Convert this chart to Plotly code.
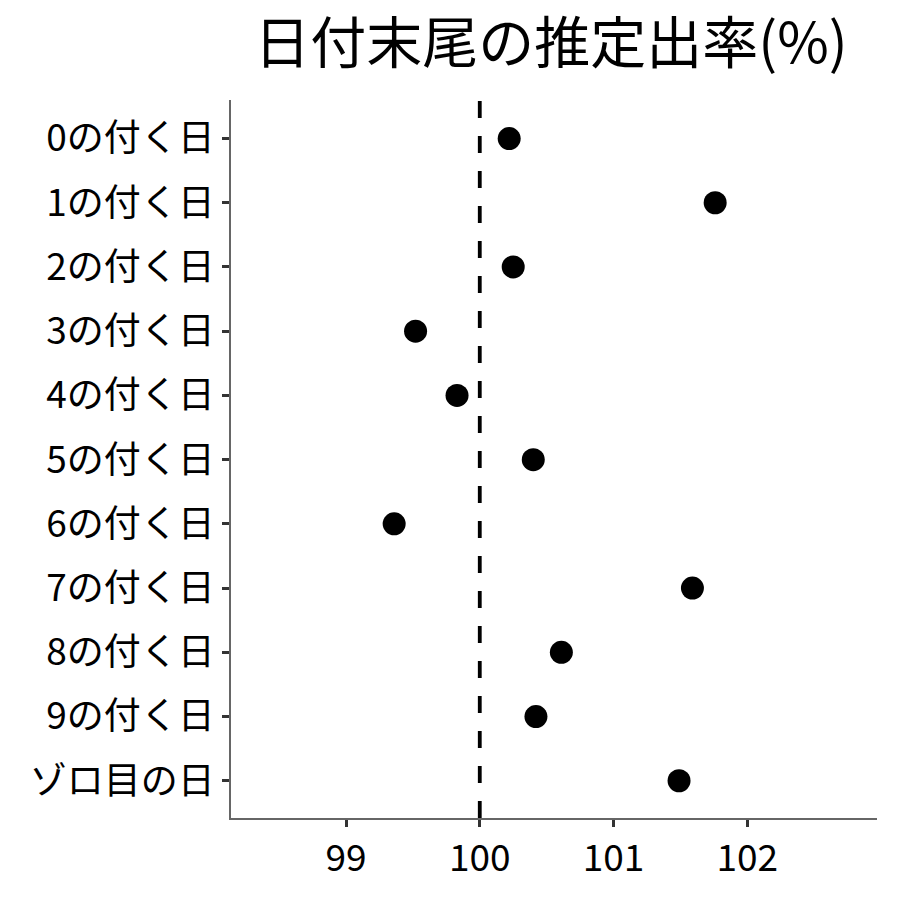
import plotly.graph_objects as go

categories = ["0の付く日", "1の付く日", "2の付く日", "3の付く日", "4の付く日", "5の付く日",
              "6の付く日", "7の付く日", "8の付く日", "9の付く日", "ゾロ目の日"]
rates = [100.22, 101.76, 100.25, 99.52, 99.83, 100.40, 99.36, 101.59, 100.61, 100.42, 101.49]
x_ticks = [99, 100, 101, 102]
reference_value = 100

font_family = "Noto Sans CJK JP"

fig = go.Figure()
fig.add_trace(go.Scatter(
    x=rates, y=categories, mode="markers",
    marker=dict(color="black", size=23),
    showlegend=False,
))
fig.add_vline(x=reference_value, line=dict(color="black", width=3.8, dash="17px,18px"))

L, T, PW, PH = 223, 92, 646, 718
fig.update_layout(
    width=900, height=900,
    paper_bgcolor="white", plot_bgcolor="white",
    margin=dict(l=L, r=900 - L - PW, t=T, b=900 - T - PH),
    title=dict(text="日付末尾の推定出率(%)", x=(L + PW / 2 - 3) / 900, xanchor="center",
               y=1 - 35 / 900, yanchor="middle",
               font=dict(family=font_family, size=56, color="black")),
    font=dict(family=font_family, color="black"),
)
fig.update_xaxes(
    range=[98.14, 102.97], tickvals=x_ticks, ticktext=[str(t) for t in x_ticks],
    showgrid=False, zeroline=False, showline=True, linecolor="#666666", linewidth=1.5,
    ticks="outside", ticklen=7, tickwidth=2.5, tickcolor="#333333",
    tickfont=dict(family=font_family, size=37, color="black"),
)
fig.update_yaxes(
    categoryorder="array", categoryarray=categories,
    range=[10.58, -0.6], autorange=False,
    showgrid=False, zeroline=False, showline=True, linecolor="#666666", linewidth=1.5,
    ticks="outside", ticklen=7, tickwidth=2.5, tickcolor="#333333",
    tickfont=dict(family=font_family, size=37, color="black"),
)
fig.write_html("out.html")
